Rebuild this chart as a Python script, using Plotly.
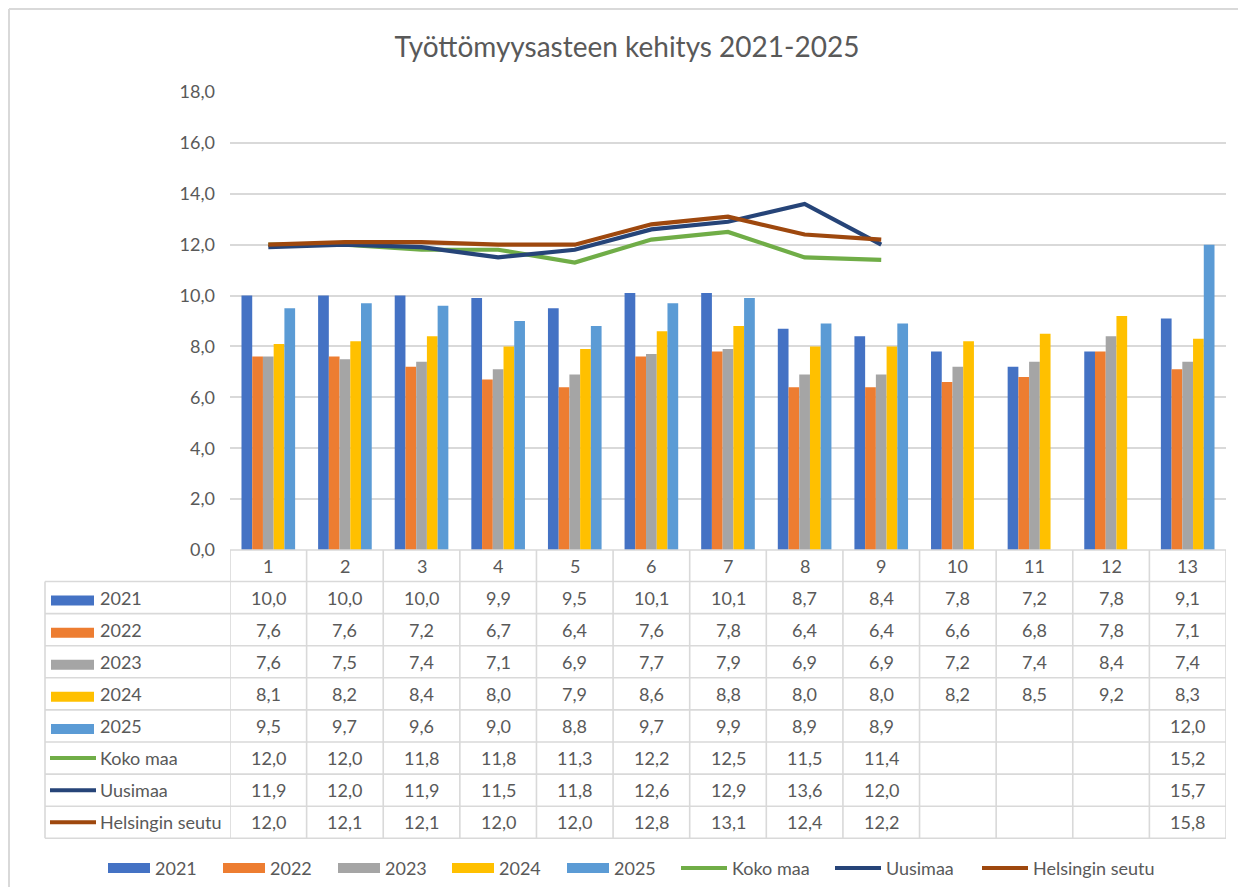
import plotly.graph_objects as go

# ---------------- data ----------------
categories = list(range(1, 14))
cat_labels = [str(c) for c in categories]

bar_names = ["2021", "2022", "2023", "2024", "2025"]
v2021 = [10.0, 10.0, 10.0, 9.9, 9.5, 10.1, 10.1, 8.7, 8.4, 7.8, 7.2, 7.8, 9.1]
v2022 = [7.6, 7.6, 7.2, 6.7, 6.4, 7.6, 7.8, 6.4, 6.4, 6.6, 6.8, 7.8, 7.1]
v2023 = [7.6, 7.5, 7.4, 7.1, 6.9, 7.7, 7.9, 6.9, 6.9, 7.2, 7.4, 8.4, 7.4]
v2024 = [8.1, 8.2, 8.4, 8.0, 7.9, 8.6, 8.8, 8.0, 8.0, 8.2, 8.5, 9.2, 8.3]
v2025 = [9.5, 9.7, 9.6, 9.0, 8.8, 9.7, 9.9, 8.9, 8.9, None, None, None, 12.0]

line_names = ["Koko maa", "Uusimaa", "Helsingin seutu"]
koko_maa = [12.0, 12.0, 11.8, 11.8, 11.3, 12.2, 12.5, 11.5, 11.4, None, None, None, 15.2]
uusimaa = [11.9, 12.0, 11.9, 11.5, 11.8, 12.6, 12.9, 13.6, 12.0, None, None, None, 15.7]
helsinki = [12.0, 12.1, 12.1, 12.0, 12.0, 12.8, 13.1, 12.4, 12.2, None, None, None, 15.8]

title_text = "Työttömyysasteen kehitys 2021-2025"
y_ticks = [0, 2, 4, 6, 8, 10, 12, 14, 16, 18]

# ---------------- style ----------------
bar_colors = ["#4472C4", "#ED7D31", "#A5A5A5", "#FFC000", "#5B9BD5"]
line_colors = ["#70AD47", "#264478", "#9E480E"]
FONT = "Lato"
TXT = "#595959"
GRID = "#D9D9D9"
FS = 18

W, H = 1230, 879
ML, MR, MT, MB = 222, 12, 84, 337
PW = W - ML - MR
PH = H - MT - MB
OFF = 8  # page body margin


def px(page_x):
    return (page_x - OFF - ML) / PW


def py(page_y):
    return (H - MB - (page_y - OFF)) / PH


def fmt(v):
    return "" if v is None else f"{v:.1f}".replace(".", ",")


bar_series = [v2021, v2022, v2023, v2024, v2025]
line_series = [koko_maa, uusimaa, helsinki]

fig = go.Figure()
for name, vals, col in zip(bar_names, bar_series, bar_colors):
    fig.add_trace(go.Bar(x=categories, y=vals, name=name, marker=dict(color=col, line=dict(width=0)),
                         showlegend=False))
for name, vals, col in zip(line_names, line_series, line_colors):
    fig.add_trace(go.Scatter(x=categories, y=vals, name=name, mode="lines",
                             line=dict(color=col, width=4.2), connectgaps=False, showlegend=False))

shapes = []
annotations = []

# ---- data table ----
row_names = bar_names + line_names
row_values = bar_series + line_series
row_colors = bar_colors + line_colors
header_top, header_bot = 550, 581.5
row_h = 32.1
n_rows = len(row_names)
table_bottom = header_bot + n_rows * row_h
x_left_page = 45

# horizontal lines
for i in range(n_rows + 1):
    yy = py(header_bot + i * row_h)
    shapes.append(dict(type="line", xref="paper", yref="paper", x0=px(x_left_page), x1=1, y0=yy, y1=yy,
                       line=dict(color=GRID, width=1.6), layer="below"))
# axis/top line of header
shapes.append(dict(type="line", xref="paper", yref="paper", x0=0, x1=1, y0=py(header_top), y1=py(header_top),
                   line=dict(color=GRID, width=1.6)))
# vertical lines
for k in range(len(categories) + 1):
    xx = 0.5 + k
    shapes.append(dict(type="line", xref="x", yref="paper", x0=xx, x1=xx, y0=py(header_top), y1=py(table_bottom),
                       line=dict(color=GRID, width=1.6)))
shapes.append(dict(type="line", xref="paper", yref="paper", x0=px(x_left_page), x1=px(x_left_page),
                   y0=py(header_bot), y1=py(table_bottom), line=dict(color=GRID, width=1.6)))

# header labels
for c, lab in zip(categories, cat_labels):
    annotations.append(dict(x=c, y=py((header_top + header_bot) / 2), xref="x", yref="paper", text=lab,
                            showarrow=False, font=dict(family=FONT, size=FS, color=TXT),
                            xanchor="center", yanchor="middle"))

for i, (nm, vals, col) in enumerate(zip(row_names, row_values, row_colors)):
    yc = header_bot + (i + 0.5) * row_h
    if i < len(bar_names):
        shapes.append(dict(type="rect", xref="paper", yref="paper", x0=px(51), x1=px(94),
                           y0=py(yc - 2), y1=py(yc + 8), fillcolor=col, line=dict(width=0)))
    else:
        shapes.append(dict(type="line", xref="paper", yref="paper", x0=px(50), x1=px(96),
                           y0=py(yc), y1=py(yc), line=dict(color=col, width=4)))
    annotations.append(dict(x=px(98), y=py(yc), xref="paper", yref="paper", text=nm, showarrow=False,
                            font=dict(family=FONT, size=FS, color=TXT), xanchor="left", yanchor="middle"))
    for c, v in zip(categories, vals):
        if v is None:
            continue
        annotations.append(dict(x=c, y=py(yc), xref="x", yref="paper", text=fmt(v), showarrow=False,
                                font=dict(family=FONT, size=FS, color=TXT), xanchor="center", yanchor="middle"))

# ---- custom legend ----
leg_y = 868
leg_keys = [108, 223, 338, 452, 567, 681, 835, 982]
for j, (nm, col) in enumerate(zip(row_names, row_colors)):
    kx = leg_keys[j]
    if j < len(bar_names):
        shapes.append(dict(type="rect", xref="paper", yref="paper", x0=px(kx), x1=px(kx + 42),
                           y0=py(leg_y + 5), y1=py(leg_y - 5), fillcolor=col, line=dict(width=0)))
        tx = kx + 45
    else:
        shapes.append(dict(type="line", xref="paper", yref="paper", x0=px(kx), x1=px(kx + 46),
                           y0=py(leg_y), y1=py(leg_y), line=dict(color=col, width=4)))
        tx = kx + 49
    annotations.append(dict(x=px(tx), y=py(leg_y), xref="paper", yref="paper", text=nm, showarrow=False,
                            font=dict(family=FONT, size=FS, color=TXT), xanchor="left", yanchor="middle"))

# outer chart border (left/top visible)
shapes.append(dict(type="line", xref="paper", yref="paper", x0=px(9), x1=px(9), y0=py(9), y1=py(900),
                   line=dict(color=GRID, width=2)))
shapes.append(dict(type="line", xref="paper", yref="paper", x0=px(9), x1=px(1260), y0=py(9), y1=py(9),
                   line=dict(color=GRID, width=2)))

fig.update_layout(
    width=W, height=H,
    margin=dict(l=ML, r=MR, t=MT, b=MB, autoexpand=False),
    paper_bgcolor="white", plot_bgcolor="white",
    separators=", ",
    barmode="group", bargap=0.3, bargroupgap=0,
    title=dict(text=title_text, x=(627 - OFF) / W, xref="container", xanchor="center",
               y=1 - (47 - OFF) / H, yref="container", yanchor="middle",
               font=dict(family=FONT, size=28, color=TXT)),
    xaxis=dict(range=[0.5, 13.5], showticklabels=False, showgrid=False, zeroline=False, ticks=""),
    yaxis=dict(range=[0, 18], tickvals=y_ticks, tickformat=".1f", showgrid=True, gridcolor=GRID, gridwidth=1.6,
               zeroline=False, ticks="", ticklabelstandoff=14,
               tickfont=dict(family=FONT, size=FS, color=TXT)),
    shapes=shapes, annotations=annotations,
    showlegend=False,
)

fig.write_html("out.html")
